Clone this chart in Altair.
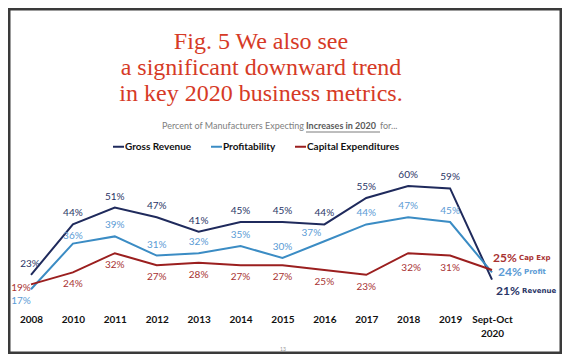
import altair as alt
import pandas as pd

# ---------------- data ----------------
categories = ["2008", "2010", "2011", "2012", "2013", "2014", "2015", "2016",
              "2017", "2018", "2019", "Sept-Oct 2020"]
gross_revenue = [23, 44, 51, 47, 41, 45, 45, 44, 55, 60, 59, 21]
profitability = [17, 36, 39, 31, 32, 35, 30, 37, 44, 47, 45, 24]
capital_expenditures = [19, 24, 32, 27, 28, 27, 27, 25, 23, 32, 31, 25]
series_names = ["Gross Revenue", "Profitability", "Capital Expenditures"]
end_names = ["Revenue", "Profit", "Cap Exp"]
title_lines = ["Fig. 5 We also see", "a significant downward trend",
               "in key 2020 business metrics."]
subtitle_parts = ["Percent of Manufacturers Expecting ", "Increases in 2020", " for..."]
page_number = "13"

line_colors = ["#1f2a5c", "#3b8cc4", "#9b1f1f"]
label_colors = ["#2a3566", "#5b9bd5", "#a83232"]

rows = []
for s, short, vals in zip(series_names, end_names,
                          [gross_revenue, profitability, capital_expenditures]):
    for c, v in zip(categories, vals):
        rows.append({"category": c, "series": s, "short": short,
                     "value": v, "label": f"{v}%"})
df = pd.DataFrame(rows)

W, H = 461, 132
last = categories[-1]

base = alt.Chart(df)
x_enc = alt.X("category:N", sort=categories,
              scale=alt.Scale(type="point", padding=0),
              axis=alt.Axis(title=None, domain=False, ticks=False, grid=False,
                            labelExpr="split(datum.label, ' ')",
                            labelFont="Lato", labelFontWeight="bold",
                            labelFontSize=10, labelColor="#111111",
                            labelPadding=8, labelLineHeight=14,
                            labelAngle=0))
y_enc = alt.Y("value:Q", scale=alt.Scale(domain=[10, 65]), axis=None)

lines = base.mark_line(strokeWidth=2).encode(
    x=x_enc, y=y_enc,
    color=alt.Color("series:N", sort=series_names,
                    scale=alt.Scale(domain=series_names, range=line_colors),
                    legend=alt.Legend(title=None, orient="none", direction="horizontal",
                                      legendX=81, legendY=-34,
                                      symbolType="stroke", symbolSize=121,
                                      symbolStrokeWidth=2, labelOffset=0,
                                      columnPadding=15, padding=0,
                                      labelFont="Lato", labelFontWeight="bold",
                                      labelFontSize=10, labelColor="#111111",
                                      labelLimit=300)),
)

label_color = alt.Color("series:N",
                        scale=alt.Scale(domain=series_names, range=label_colors),
                        legend=None)

# label placement groups: (series, categories, dx, dy)
placements = [
    ("Gross Revenue", categories[1:-1], 0, -11),
    ("Gross Revenue", ["2008"], -1, -11),
    ("Profitability", ["2011", "2012", "2013", "2014", "2015", "2017", "2018", "2019"], 0, -11),
    ("Profitability", ["2010"], 0, -8),
    ("Profitability", ["2016"], -13, -8),
    ("Profitability", ["2008"], -10, 12),
    ("Capital Expenditures", ["2010", "2011", "2012", "2013", "2014", "2015", "2016", "2017", "2019"], 0, 12),
    ("Capital Expenditures", ["2018"], 3, 15),
    ("Capital Expenditures", ["2008"], -10, 4),
]

label_layers = []
for s, cats, dx, dy in placements:
    label_layers.append(
        base.transform_filter(alt.FieldEqualPredicate(field="series", equal=s))
        .transform_filter(alt.FieldOneOfPredicate(field="category", oneOf=list(cats)))
        .mark_text(font="Lato", fontSize=10, dx=dx, dy=dy, baseline="middle")
        .encode(x=x_enc, y=y_enc, text="label:N", color=label_color)
    )

# end labels at the last point
end_offsets = {"Capital Expenditures": (1, -12), "Profitability": (6, 0), "Gross Revenue": (4, 11)}
end_layers = []
for s, (dx, dy) in end_offsets.items():
    sel = base.transform_filter(alt.FieldEqualPredicate(field="series", equal=s)) \
              .transform_filter(alt.FieldEqualPredicate(field="category", equal=last))
    end_layers.append(sel.mark_text(font="Lato", fontWeight="bold", fontSize=12,
                                    align="left", baseline="middle", dx=dx, dy=dy)
                      .encode(x=x_enc, y=y_enc, text="label:N", color=label_color))
    end_layers.append(sel.mark_text(font="DejaVu Sans", fontWeight="bold", fontSize=7,
                                    align="left", baseline="middle", dx=dx + 26, dy=dy)
                      .encode(x=x_enc, y=y_enc, text="short:N", color=label_color))

one = alt.Chart(pd.DataFrame({"a": [0]}))

title = one.mark_text(text=title_lines, font="Liberation Serif", fontSize=24,
                      lineHeight=26, color="#d63a26", align="center",
                      baseline="alphabetic").encode(x=alt.value(230), y=alt.value(-125))

sub1 = one.mark_text(text=subtitle_parts[0], font="Lato", fontSize=9, color="#808080",
                     align="right", baseline="middle").encode(x=alt.value(273), y=alt.value(-48))
sub2 = one.mark_text(text=subtitle_parts[1], font="Lato", fontSize=9, fontWeight="bold",
                     color="#5a5a5a", align="left", baseline="middle").encode(
    x=alt.value(275), y=alt.value(-48))
sub3 = one.mark_text(text=subtitle_parts[2], font="Lato", fontSize=9, color="#808080",
                     align="left", baseline="middle").encode(x=alt.value(349), y=alt.value(-48))
underline = one.mark_rule(color="#5a5a5a", strokeWidth=0.8).encode(
    x=alt.value(275), x2=alt.value(349), y=alt.value(-42))

pnum = one.mark_text(text=page_number, font="Lato", fontSize=5, color="#999999").encode(
    x=alt.value(252), y=alt.value(175))

border = one.mark_rect(fillOpacity=0, stroke="#3a3a3a", strokeWidth=2.5).encode(
    x=alt.value(-21.75), x2=alt.value(529.75), y=alt.value(-164.75), y2=alt.value(178.75))

chart = alt.layer(lines, *label_layers, *end_layers, title, sub1, sub2, sub3,
                  underline, pnum, border).resolve_scale(color="independent").properties(
    width=W, height=H, autosize=alt.AutoSizeParams(type="none"),
    padding={"left": 23, "top": 166, "right": 70, "bottom": 48},
    background="white",
).configure_view(stroke=None)

chart.save("out.html", embed_options={"renderer": "svg", "actions": False})
